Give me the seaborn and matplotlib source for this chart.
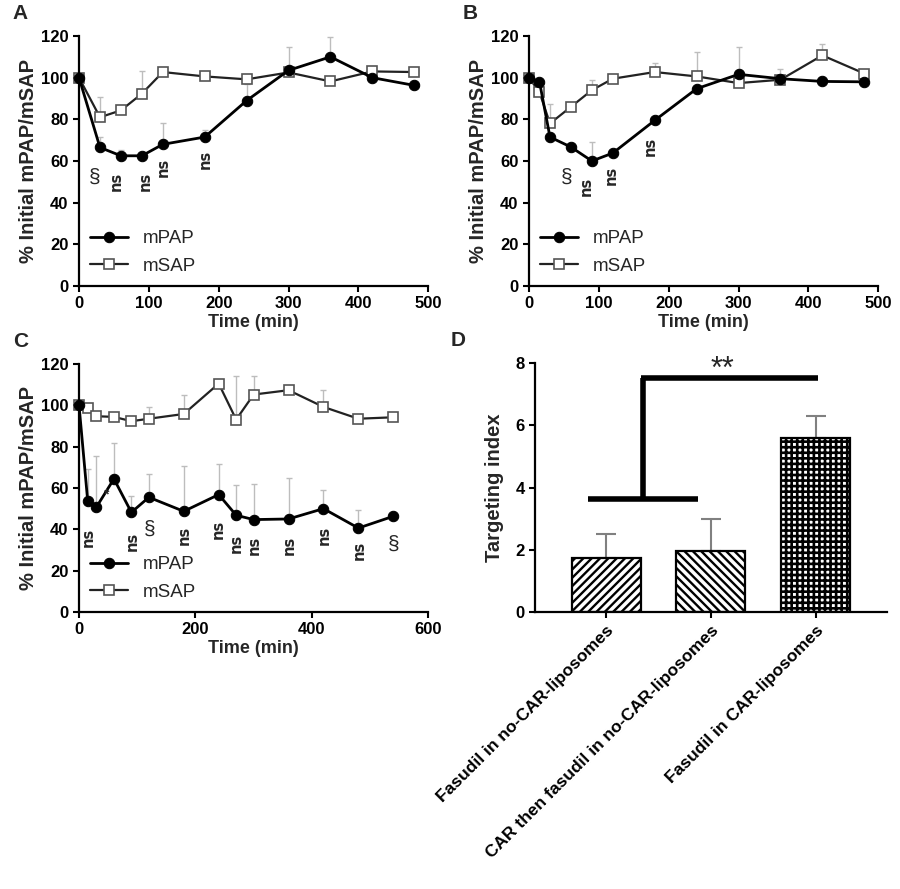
import matplotlib
matplotlib.use("Agg")
import matplotlib.pyplot as plt
import seaborn as sns
import numpy as np
import pandas as pd

# panel A
time_a = [0, 30, 60, 90, 120, 180, 240, 300, 360, 420, 480]
pap_a = [100, 66.5, 62.5, 62.5, 68, 71.5, 89, 103.5, 110, 100, 96.3]
pap_a_err = [0, 5, 3, 0, 10, 3.5, 8, 11, 9.5, 0, 0]
sap_a = [100, 81, 84.3, 92.3, 102.7, 100.6, 99.2, 102.5, 98.2, 103, 102.7]
sap_a_err = [0, 9.5, 0, 11, 0, 0, 0, 0, 0, 0, 0]

# panel B
time_b = [0, 15, 30, 60, 90, 120, 180, 240, 300, 360, 420, 480]
pap_b = [100, 98, 71.5, 66.7, 60, 63.8, 79.5, 94.7, 101.6, 99.5, 98.2, 98]
pap_b_err = [0, 0, 0, 0, 9, 0, 0, 0, 13, 0, 2, 0]
sap_b = [100, 93, 78, 86, 94, 99.5, 102.7, 100.6, 97.4, 99, 110.7, 102]
sap_b_err = [0, 0, 9.5, 0, 5, 0, 4.5, 11.5, 0, 5, 5.5, 0]

# panel C
time_c = [0, 15, 30, 60, 90, 120, 180, 240, 270, 300, 360, 420, 480, 540]
pap_c = [100, 53.5, 50.8, 64.4, 48.2, 55.5, 48.7, 56.8, 46.8, 44.7, 45, 50, 40.6, 46.3]
pap_c_err = [0, 15.5, 24.8, 17.4, 8.1, 11.5, 21.8, 15, 14.5, 17.3, 19.8, 9.2, 8.9, 0]
sap_c = [100, 98.7, 94.7, 94.4, 92.3, 93.5, 95.8, 110.5, 93.1, 105.2, 107.3, 99.2, 93.5, 94.2]
sap_c_err = [0, 0, 0, 0, 0, 5.7, 9.2, 0, 21.3, 8.8, 0, 8.4, 0, 0]

# panel D
groups = ["Fasudil in no-CAR-liposomes", "CAR then fasudil in no-CAR-liposomes",
          "Fasudil in CAR-liposomes"]
target_idx = [1.72, 1.95, 5.6]
target_err = [0.78, 1.05, 0.7]
hatches = ["////", "\\\\\\\\", "+++"]

# significance marks (x, y, text)
marks_a = [(22, 52, "§"), (54, 50, "ns"), (95, 50, "ns"), (121, 57, "ns"), (181, 61, "ns")]
marks_b = [(54, 52, "§"), (82, 48, "ns"), (118, 53, "ns"), (174, 67, "ns")]
marks_c = [(16, 36, "ns"), (45, 57, "*"), (92, 34, "ns"), (122, 40, "§"), (180, 37, "ns"),
           (240, 40, "ns"), (271, 33, "ns"), (301, 32, "ns"), (361, 32, "ns"),
           (421, 37, "ns"), (481, 30, "ns"), (541, 33, "§")]

sns.set_style("ticks")
plt.rcParams["font.family"] = ["Liberation Sans", "DejaVu Sans"]
plt.rcParams["font.weight"] = "bold"
plt.rcParams["hatch.linewidth"] = 1.7

fig = plt.figure(figsize=(9, 8.89), dpi=100)


def style_axes(ax):
    sns.despine(ax=ax)
    for s in ["left", "bottom"]:
        ax.spines[s].set_linewidth(1.6)
        ax.spines[s].set_color("black")
    ax.tick_params(direction="out", length=4, width=1.5, labelsize=12, colors="black")
    for lab in ax.get_xticklabels() + ax.get_yticklabels():
        lab.set_fontweight("bold")


def time_panel(rect, t, pap, pap_err, sap, sap_err, marks, xmax, xstep, letter):
    ax = fig.add_axes(rect)
    df = pd.DataFrame({"t": t, "mPAP": pap, "mSAP": sap})
    # error bars (upper only)
    ax.errorbar(t, pap, yerr=[np.zeros(len(t)), pap_err], fmt="none", ecolor="#bdbdbd",
                elinewidth=1, capsize=2, capthick=1, zorder=1)
    ax.errorbar(t, sap, yerr=[np.zeros(len(t)), sap_err], fmt="none", ecolor="#bdbdbd",
                elinewidth=1, capsize=2, capthick=1, zorder=1)
    sns.lineplot(data=df, x="t", y="mPAP", ax=ax, color="black", lw=2, marker="o",
                 markersize=7.5, markerfacecolor="black", markeredgecolor="black",
                 label="mPAP", zorder=3, clip_on=False)
    sns.lineplot(data=df, x="t", y="mSAP", ax=ax, color="#222222", lw=1.6, marker="s",
                 markersize=7.5, markerfacecolor="white", markeredgecolor="#555555",
                 markeredgewidth=1.2, label="mSAP", zorder=2, clip_on=False)
    for x, y, s in marks:
        if s == "ns":
            ax.text(x, y, s, rotation=90, ha="center", va="center", fontsize=10.5,
                    fontweight="bold", family="DejaVu Sans")
        elif s == "*":
            ax.text(x, y, s, ha="center", va="center", fontsize=10)
        else:
            ax.text(x, y, s, ha="center", va="center", fontsize=15, fontweight="normal")
    ax.set_xlim(0, xmax)
    ax.set_ylim(0, 120)
    ax.set_xticks(np.arange(0, xmax + 1, xstep))
    ax.set_yticks(np.arange(0, 121, 20))
    ax.set_xlabel("Time (min)", fontsize=13, fontweight="bold", labelpad=2)
    ax.set_ylabel("% Initial mPAP/mSAP", fontsize=14.5, fontweight="bold", labelpad=2)
    leg = ax.legend(loc="lower left", bbox_to_anchor=(0.0, 0.0), frameon=False,
                    fontsize=13.5, handlelength=2.0, labelspacing=0.55, borderaxespad=0.2)
    for txt in leg.get_texts():
        txt.set_fontweight("normal")
    style_axes(ax)
    ax.text(-0.19, 1.09, letter, transform=ax.transAxes, fontsize=15, fontweight="bold",
            va="center", ha="left")
    return ax


time_panel([0.0878, 0.6783, 0.388, 0.2812], time_a, pap_a, pap_a_err, sap_a, sap_a_err,
           marks_a, 500, 100, "A")
time_panel([0.5878, 0.6783, 0.388, 0.2812], time_b, pap_b, pap_b_err, sap_b, sap_b_err,
           marks_b, 500, 100, "B")
time_panel([0.0878, 0.3116, 0.388, 0.279], time_c, pap_c, pap_c_err, sap_c, sap_c_err,
           marks_c, 600, 200, "C")

# panel D
axd = fig.add_axes([0.5944, 0.3116, 0.391, 0.280])
dfd = pd.DataFrame({"group": groups, "value": target_idx})
sns.barplot(data=dfd, x="group", y="value", ax=axd, color="white", edgecolor="black",
            linewidth=1.6, width=0.66, errorbar=None, zorder=2)
for patch, h in zip(axd.patches, hatches):
    patch.set_hatch(h)
    patch.set_facecolor("white")
    if h.startswith("+") and hasattr(patch, "set_hatch_linewidth"):
        patch.set_hatch_linewidth(1.9)
axd.errorbar(range(len(groups)), target_idx, yerr=[np.zeros(3), target_err], fmt="none",
             ecolor="#808080", elinewidth=1.5, capsize=7, capthick=1.5, zorder=1)
# bracket
axd.plot([-0.17, 0.88], [3.63, 3.63], color="black", lw=4, solid_capstyle="butt")
axd.plot([0.35, 0.35], [3.63, 7.53], color="black", lw=4, solid_capstyle="butt")
axd.plot([0.33, 2.02], [7.53, 7.53], color="black", lw=4, solid_capstyle="butt")
axd.text(1.11, 7.78, "**", ha="center", va="center", fontsize=22, fontweight="normal")
axd.set_xlim(-0.68, 2.68)
axd.set_ylim(0, 8)
axd.set_yticks([0, 2, 4, 6, 8])
axd.set_xlabel("")
axd.set_ylabel("Targeting index", fontsize=14.5, fontweight="bold", labelpad=8)
axd.set_xticks(range(len(groups)))
axd.set_xticklabels(groups, rotation=45, ha="right", rotation_mode="anchor")
style_axes(axd)
for lab in axd.get_xticklabels():
    lab.set_fontsize(12.5)
axd.text(-0.24, 1.09, "D", transform=axd.transAxes, fontsize=15, fontweight="bold",
         va="center", ha="left")

fig.savefig("out.png", dpi=100, facecolor="white")
